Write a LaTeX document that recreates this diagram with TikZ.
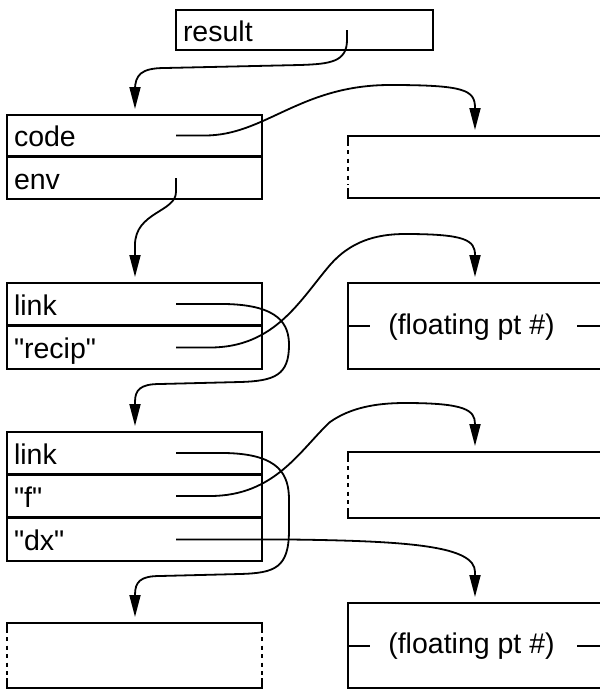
\documentclass[tikz,border=0pt]{standalone}
\usepackage{fontspec}
\setmainfont{Liberation Sans}[Ligatures=TeXOff]
\usetikzlibrary{arrows.meta,calc}

% left edge of a frame that is broken (dashed) between two solid stubs
\newcommand\brokenside[2]{%
  \draw[rim] (#1) -- ([yshift=-9pt]#1) ([yshift=9pt]#2) -- (#2);
  \draw[rim, line cap=butt, dash pattern=on 4pt off 4.5pt]
    ([yshift=-14pt]#1) -- ([yshift=13pt]#2);}

\begin{document}
\begin{tikzpicture}[x=1pt,y=-1pt,
  rim/.style={line width=2pt, line cap=rect},
  txt/.style={font=\fontsize{28.5}{32}\selectfont},
  cell/.style={txt, draw, line width=2pt, outer sep=0pt, anchor=north west,
    minimum width=255pt, minimum height=42pt, inner xsep=7pt, inner ysep=0pt,
    text width=241pt, align=left, text height=24.5pt, text depth=1.7pt},
  openbox/.style={outer sep=0pt, inner sep=0pt, anchor=north west,
    minimum width=300pt},
  lbl/.style={txt, inner sep=0pt},
  ptr/.style={line width=1.8pt, -{Triangle[length=22pt,width=11pt]},
    shorten >=6pt}]

\useasboundingbox (0,0) rectangle (600,689);
\clip (0,0) rectangle (600,689);

% columns for pointer tails and heads
\coordinate (ptrx) at (176,0);
\coordinate (rx) at (347,0);
\coordinate (lcol) at (135,0);
\coordinate (rcol) at (475,0);

% record cells
\node[cell, minimum width=257pt, minimum height=40pt, text width=243pt]
  (result) at (176,10) {result};
\node[cell, minimum height=41pt] (code) at (7,115) {code};
\node[cell] (env) at (7,157) {env};
\node[cell] (link1) at (7,283) {link};
\node[cell, minimum height=43pt] (recip) at (7,326) {"recip"};
\node[cell] (link2) at (7,432) {link};
\node[cell] (fname) at (7,475) {"f"};
\node[cell, minimum height=43pt] (dx) at (7,518) {"dx"};

% frames open to the right
\node[openbox, minimum height=62pt] (r1) at (348,136) {};
\node[openbox, minimum height=86pt] (fl1) at (348,283) {};
\node[openbox, minimum height=66pt] (r3) at (348,452) {};
\node[openbox, minimum height=85pt] (fl2) at (348,603) {};
\node[openbox, minimum width=255pt, minimum height=65pt] (bl) at (7,623) {};

\draw[rim] (r1.north east) -- (r1.north west) (r1.south west) -- (r1.south east);
\brokenside{r1.north west}{r1.south west}

\draw[rim] (r3.north east) -- (r3.north west) (r3.south west) -- (r3.south east);
\brokenside{r3.north west}{r3.south west}

\draw[rim] (bl.north west) -- (bl.north east) (bl.south west) -- (bl.south east);
\brokenside{bl.north west}{bl.south west}
\brokenside{bl.north east}{bl.south east}

\draw[rim] (fl1.north east) -- (fl1.north west) -- (fl1.south west) -- (fl1.south east);
\node[lbl] (fl1t) at ($(fl1.west)+(123.5,1)$) {(floating pt \#)};
\draw[rim] (fl1.west) -- ++(21,0);
\draw[rim] ($(fl1.west)+(230,0)$) -- ++(40,0);

\draw[rim] (fl2.north east) -- (fl2.north west) -- (fl2.south west) -- (fl2.south east);
\node[lbl] (fl2t) at ($(fl2.west)+(123.5,1)$) {(floating pt \#)};
\draw[rim] (fl2.west) -- ++(21,0);
\draw[rim] ($(fl2.west)+(230,0)$) -- ++(40,0);

% pointers
\draw[ptr] (result.center -| rx) -- (347,40)
  .. controls (347,62) and (330,64) .. (300,65) -- (165,68)
  .. controls (141,68) and (135,75) .. (135,90) -- (code.north -| lcol);

\draw[ptr] (code.center -| ptrx) -- (205,135.5)
  .. controls (265,135.5) and (300,85) .. (390,85)
  .. controls (465,85) and (475,90) .. (475,108) -- (r1.north -| rcol);

\draw[ptr] (env.center -| ptrx) -- (176,192)
  .. controls (176,212) and (135,212) .. (135,245) -- (link1.north -| lcol);

\draw[ptr] (link1.center -| ptrx) -- (225,304)
  .. controls (280,305) and (289,325) .. (289,345)
  .. controls (289,375) and (275,381) .. (240,382) -- (160,384)
  .. controls (140,384) and (135,390) .. (135,402) -- (link2.north -| lcol);

\draw[ptr] (recip.center -| ptrx) -- (210,347.5)
  .. controls (275,347.5) and (300,300) .. (330,265)
  .. controls (350,242) and (375,234) .. (405,234)
  .. controls (465,234) and (475,240) .. (475,255) -- (fl1.north -| rcol);

\draw[ptr] (link2.center -| ptrx) -- (225,453)
  .. controls (280,454) and (289,475) .. (289,500) -- (289,530)
  .. controls (289,568) and (275,573) .. (240,574) -- (160,576)
  .. controls (140,576) and (135,582) .. (135,595) -- (bl.north -| lcol);

\draw[ptr] (fname.center -| ptrx) -- (210,496)
  .. controls (275,496) and (300,450) .. (330,422)
  .. controls (350,408) and (375,403) .. (405,403)
  .. controls (465,403) and (475,410) .. (475,424) -- (r3.north -| rcol);

\draw[ptr] (dx.center -| ptrx) -- (290,539.5)
  .. controls (410,541) and (475,546) .. (475,572) -- (fl2.north -| rcol);

\end{tikzpicture}
\end{document}
